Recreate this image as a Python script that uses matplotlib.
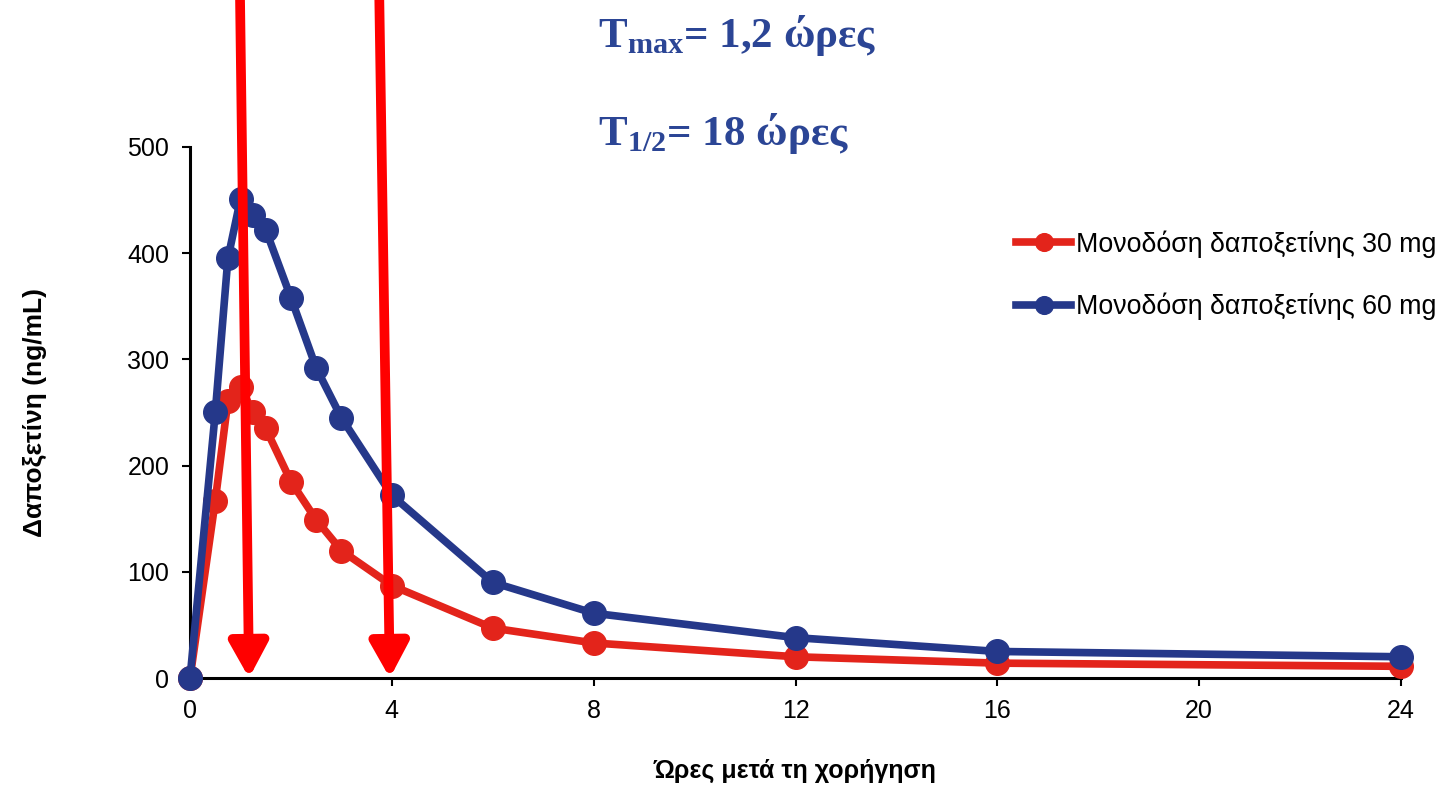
import matplotlib
matplotlib.use('Agg')
import matplotlib.pyplot as plt

# hours after dosing
hours = [0, 0.5, 0.75, 1, 1.25, 1.5, 2, 2.5, 3, 4, 6, 8, 12, 16, 24]
# dapoxetine concentration (ng/mL)
conc_30 = [0, 167, 261, 274, 250, 235, 185, 149, 120, 87, 47, 33, 20, 14, 11]
conc_60 = [0, 250, 395, 451, 436, 422, 358, 292, 245, 172, 90, 61, 38, 25, 20]
labels = ['Μονοδόση δαποξετίνης 30 mg', 'Μονοδόση δαποξετίνης 60 mg']
x_ticks = [0, 4, 8, 12, 16, 20, 24]
y_ticks = [0, 100, 200, 300, 400, 500]
# arrows: (top x, tip x)
arrows = [(0.99, 1.17), (3.75, 3.96)]

RED = '#E3241B'
BLUE = '#25388A'
TXT_BLUE = '#2B4595'

plt.rcParams['font.family'] = ['Liberation Sans', 'DejaVu Sans']
plt.rcParams['mathtext.fontset'] = 'custom'
plt.rcParams['mathtext.bf'] = 'Liberation Serif:bold'
plt.rcParams['mathtext.rm'] = 'Liberation Serif'

fig = plt.figure(figsize=(14.43, 7.97), dpi=100)
ax = fig.add_axes([0.1317, 0.1493, 0.8392, 0.6663])

ax.plot(hours, conc_30, color=RED, lw=5.5, marker='o', ms=17, label=labels[0],
        clip_on=False, zorder=3)
ax.plot(hours, conc_60, color=BLUE, lw=5.5, marker='o', ms=17, label=labels[1],
        clip_on=False, zorder=4)

ax.set_xlim(0, 24)
ax.set_ylim(0, 500)
ax.set_xticks(x_ticks)
ax.set_yticks(y_ticks)
ax.tick_params(labelsize=18, width=1.5, length=6, direction='out', pad=9)
for s in ['top', 'right']:
    ax.spines[s].set_visible(False)
for s in ['left', 'bottom']:
    ax.spines[s].set_linewidth(2.2)

ax.set_ylabel('Δαποξετίνη (ng/mL)', fontsize=19, fontweight='bold', labelpad=58)
ax.set_xlabel('Ώρες μετά τη χορήγηση', fontsize=18, fontweight='bold', labelpad=26)

for x0, x1 in arrows:
    ax.annotate('', xy=(x1, 0), xytext=(x0, 642), annotation_clip=False,
                arrowprops=dict(arrowstyle='-|>,head_length=2.1,head_width=1.15',
                                color='#FF0000', lw=7, shrinkA=0, shrinkB=0),
                zorder=6)

leg = fig.legend(loc='upper left', bbox_to_anchor=(992 / 1443, 1 - 206 / 797),
                 frameon=False, fontsize=19.3, handlelength=2.05, handletextpad=0.2,
                 labelspacing=1.3, markerscale=0.75)

fig.text(598 / 1443, 1 - 35 / 797, r'$\mathbf{T}_{\mathbf{max}}$= 1,2 ώρες',
         fontsize=31, fontweight='bold', family='Liberation Serif', color=TXT_BLUE,
         va='center')
fig.text(598 / 1443, 1 - 133 / 797, r'$\mathbf{T}_{\mathbf{1/2}}$= 18 ώρες',
         fontsize=31, fontweight='bold', family='Liberation Serif', color=TXT_BLUE,
         va='center')

fig.savefig('out.png', dpi=100)
